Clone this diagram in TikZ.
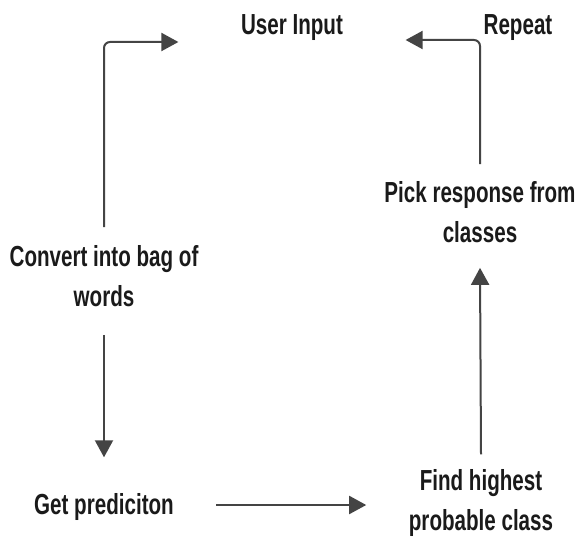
\documentclass[tikz,border=0pt]{standalone}
\usepackage{fontspec}
\setmainfont{Liberation Sans}[FakeStretch=0.71]
\usetikzlibrary{arrows.meta,calc}
\definecolor{txt}{HTML}{1A1A1A}
\definecolor{ln}{HTML}{444444}
\tikzset{
  lbl/.style={inner sep=0pt, align=center, text=txt,
    font=\fontsize{29}{40}\selectfont\bfseries},
  arr/.style={draw=ln, line width=2pt, rounded corners=6pt,
    -{Triangle[length=17pt,width=18pt]}}
}
\begin{document}
\begin{tikzpicture}[x=1pt,y=-1pt]
\path[use as bounding box, fill=white] (0,0) rectangle (580,540);
\node[lbl] (user) at (292,28) {User Input};
\node[lbl] (repeat) at (518,28) {Repeat};
\node[lbl] (convert) at (104,276) {Convert into bag of\\words};
\node[lbl] (pick) at (480,212) {Pick response from\\classes};
\node[lbl] (get) at (104,507) {Get prediciton};
\node[lbl] (find) at (481,503) {Find highest\\probable class};
\draw[arr] ($(convert.north)+(0,-18)$) |- ($(user.west)+(-62.5,14)$);
\draw[arr] ($(pick.north)+(0,-17)$) |- ($(user.east)+(62.5,12)$);
\draw[arr] ($(convert.south)+(0,28)$) -- ($(get.north)+(0,-36)$);
\draw[arr] ($(get.east)+(42.5,-2)$) -- ($(find.west)+(-42.5,2)$);
\draw[arr] ($(find.north)+(0,-15)$) -- ($(pick.south)+(0,25)$);
\end{tikzpicture}
\end{document}
